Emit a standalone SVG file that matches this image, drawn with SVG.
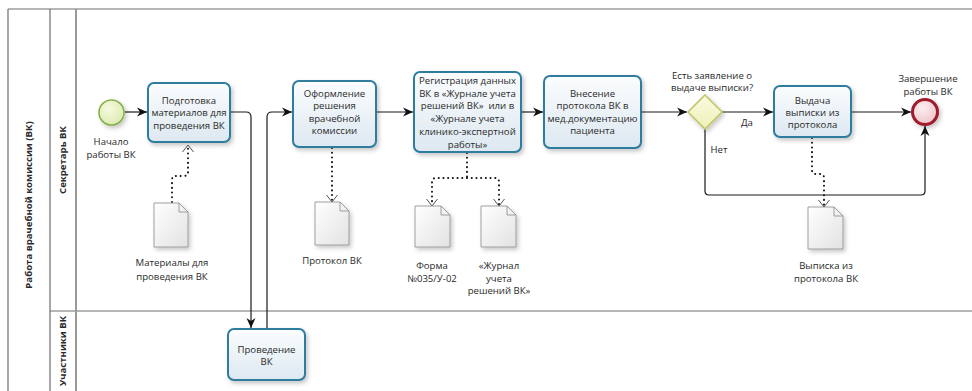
<svg xmlns="http://www.w3.org/2000/svg" width="972" height="391" viewBox="0 0 972 391">
<defs>
<style>
text{font-family:"Open Sans","Liberation Sans",sans-serif;font-size:9.6px;fill:#2a2a2a;text-anchor:middle}
.hdr{font-weight:bold;font-size:9.6px}
.pre{white-space:pre}
.pool{fill:none;stroke:#6e6e6e;stroke-width:1.2}
.task{fill:url(#gTask);stroke:#2f7b9e;stroke-width:2;filter:url(#sh)}
.doc{fill:url(#gDoc);stroke:#8a8a8a;stroke-width:0.8;filter:url(#sh)}
.fold{fill:none;stroke:#8a8a8a;stroke-width:0.8}
.flow{fill:none;stroke:#1a1a1a;stroke-width:1.2;marker-end:url(#arr)}
.assoc{fill:none;stroke:#111;stroke-width:2;stroke-linecap:round;stroke-dasharray:0.1 4.6}
</style>
<linearGradient id="gTask" x1="0" y1="0" x2="0" y2="1">
<stop offset="0" stop-color="#fbfdfe"/><stop offset="1" stop-color="#dde8f1"/>
</linearGradient>
<linearGradient id="gDoc" x1="0" y1="0" x2="1" y2="1">
<stop offset="0" stop-color="#ffffff"/><stop offset="1" stop-color="#e2e2e2"/>
</linearGradient>
<radialGradient id="gStart" cx="0.4" cy="0.35" r="0.7">
<stop offset="0" stop-color="#f6fadf"/><stop offset="1" stop-color="#dcebb0"/>
</radialGradient>
<radialGradient id="gEnd" cx="0.4" cy="0.35" r="0.7">
<stop offset="0" stop-color="#fbeef0"/><stop offset="1" stop-color="#eec3c9"/>
</radialGradient>
<linearGradient id="gGw" x1="0" y1="0" x2="0" y2="1">
<stop offset="0" stop-color="#fafbe0"/><stop offset="1" stop-color="#eef0b8"/>
</linearGradient>
<filter id="sh" x="-20%" y="-20%" width="150%" height="150%">
<feDropShadow dx="2" dy="2.5" stdDeviation="2" flood-color="#000" flood-opacity="0.22"/>
</filter>
<marker id="arr" markerUnits="userSpaceOnUse" markerWidth="12" markerHeight="10" refX="10" refY="5" orient="auto">
<path d="M0,0.5 L10,5 L0,9.5 L3,5 z" fill="#111" stroke="none"/>
</marker>
<marker id="open" markerUnits="userSpaceOnUse" markerWidth="12" markerHeight="14" refX="8" refY="6" orient="auto">
<path d="M1,0.5 L8,6 L1,11.5" fill="none" stroke="#555" stroke-width="1" stroke-dasharray="none"/>
</marker>
</defs>

<g id="pool">
<path class="pool" d="M8,9 H972 M8,9 V391 M50,9 V391 M50,311 H972"/>
<path d="M76,9 V391" stroke="#9a9a9a" stroke-width="2" fill="none"/>
<text class="hdr" transform="translate(32,205) rotate(-90)">Работа врачебной комиссии (ВК)</text>
<text class="hdr" transform="translate(66,160) rotate(-90)">Секретарь ВК</text>
<text class="hdr" transform="translate(66,351) rotate(-90)">Участники ВК</text>
</g>

<g id="connectors">
<path class="flow" d="M125,112 H147"/>
<path class="flow" d="M230,112 H246 Q251,112 251,117 V328"/>
<path class="flow" d="M267,329 V117 Q267,112 272,112 H292"/>
<path class="flow" d="M376,112 H413"/>
<path class="flow" d="M521,112 H543"/>
<path class="flow" d="M641,112 H687"/>
<path class="flow" d="M722,112 H773"/>
<path class="flow" d="M851,112 H911"/>
<path class="flow" d="M705,129 V191 Q705,195 709,195 H921 Q925,195 925,191 V126"/>
<path class="assoc" d="M172,202 V180 Q172,176 176,176 H184 Q188,176 188,172 V145" marker-end="url(#open)"/>
<path class="assoc" d="M332,148 V202" marker-end="url(#open)"/>
<path class="assoc" d="M467,153 V178 M467,178 H436 Q432,178 432,182 V205 M467,178 H495 Q499,178 499,182 V205"/>
<path d="M432,196 V206" fill="none" stroke="none" marker-end="url(#open)"/>
<path d="M499,196 V206" fill="none" stroke="none" marker-end="url(#open)"/>
<path class="assoc" d="M812,138 V170 Q812,174 816,174 H820 Q824,174 824,178 V207" marker-end="url(#open)"/>
<text x="747" y="125.5">Да</text>
<text x="719" y="152.5">Нет</text>
</g>

<g id="start">
<circle cx="111.5" cy="112.5" r="12.5" fill="url(#gStart)" stroke="#86b24a" stroke-width="1.6" filter="url(#sh)"/>
<text x="111" y="144.5">Начало</text>
<text x="111" y="158">работы ВК</text>
</g>

<g id="t1">
<rect class="task" x="148" y="83" width="82" height="59" rx="6"/>
<text x="189" y="103.5">Подготовка</text>
<text x="189" y="116">материалов для</text>
<text x="189" y="128.5">проведения ВК</text>
</g>

<g id="t2">
<rect class="task" x="228" y="329" width="77" height="51" rx="6"/>
<text x="266.5" y="352.5">Проведение</text>
<text x="266.5" y="364.5">ВК</text>
</g>

<g id="t3">
<rect class="task" x="293" y="81" width="83" height="66" rx="6"/>
<text x="334.5" y="96.5">Оформление</text>
<text x="334.5" y="109">решения</text>
<text x="334.5" y="121.5">врачебной</text>
<text x="334.5" y="134">комиссии</text>
</g>

<g id="t4">
<rect class="task" x="414" y="72" width="107" height="80" rx="6"/>
<text x="467.5" y="84">Регистрация данных</text>
<text x="467.5" y="96.7">ВК в «Журнале учета</text>
<text class="pre" x="467.5" y="109.4">решений ВК»  или в</text>
<text x="467.5" y="122.1">«Журнале учета</text>
<text x="467.5" y="134.8">клинико-экспертной</text>
<text x="467.5" y="147.5">работы»</text>
</g>

<g id="t5">
<rect class="task" x="544" y="76" width="97" height="72" rx="6"/>
<text x="592.5" y="96.5">Внесение</text>
<text x="592.5" y="109">протокола ВК в</text>
<text x="592.5" y="121.5">мед.документацию</text>
<text x="592.5" y="134">пациента</text>
</g>

<g id="gw">
<path d="M705,95 L722,112 L705,129 L688,112 Z" fill="url(#gGw)" stroke="#c4c46a" stroke-width="1.6" filter="url(#sh)"/>
<text x="712" y="78.5">Есть заявление о</text>
<text x="712" y="91">выдаче выписки?</text>
</g>

<g id="t6">
<rect class="task" x="774" y="86" width="77" height="51" rx="6"/>
<text x="812.5" y="103.5">Выдача</text>
<text x="812.5" y="115.5">выписки из</text>
<text x="812.5" y="127.5">протокола</text>
</g>

<g id="end">
<circle cx="925" cy="112" r="12.5" fill="url(#gEnd)" stroke="#a01b2b" stroke-width="3" filter="url(#sh)"/>
<text x="928" y="81.5">Завершение</text>
<text x="928" y="95">работы ВК</text>
</g>

<g id="d1">
<path class="doc" d="M154,203 H179 L188,212 V247 H154 Z"/>
<path class="fold" d="M179,203 V212 H188"/>
<text x="172" y="266">Материалы для</text>
<text x="172" y="279.5">проведения ВК</text>
</g>

<g id="d2">
<path class="doc" d="M315,202 H340 L349,211 V245 H315 Z"/>
<path class="fold" d="M340,202 V211 H349"/>
<text x="332" y="263.5">Протокол ВК</text>
</g>

<g id="d3">
<path class="doc" d="M415,206 H441 L450,215 V247 H415 Z"/>
<path class="fold" d="M441,206 V215 H450"/>
<text x="432" y="268.5">Форма</text>
<text x="432" y="281.5">№035/У-02</text>
</g>

<g id="d4">
<path class="doc" d="M481,206 H507 L516,215 V247 H481 Z"/>
<path class="fold" d="M507,206 V215 H516"/>
<text x="499" y="268.5">«Журнал</text>
<text x="499" y="281.5">учета</text>
<text x="499" y="294">решений ВК»</text>
</g>

<g id="d5">
<path class="doc" d="M808,207 H834 L843,216 V249 H808 Z"/>
<path class="fold" d="M834,207 V216 H843"/>
<text x="826" y="268.5">Выписка из</text>
<text x="826" y="281.5">протокола ВК</text>
</g>
</svg>
